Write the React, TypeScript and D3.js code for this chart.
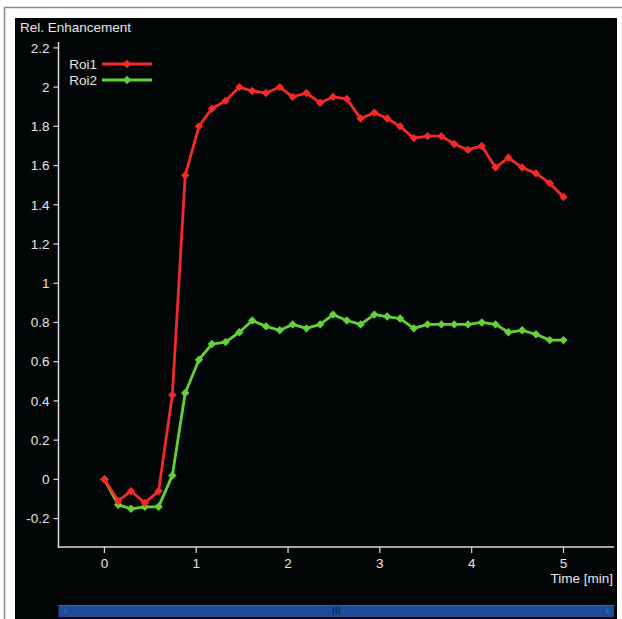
import React from "react";
import * as d3 from "d3";

// time points (min) and relative enhancement for both ROIs
const times = [
  0, 0.15, 0.29, 0.44, 0.59, 0.74, 0.88, 1.03, 1.17, 1.32, 1.47, 1.61, 1.76,
  1.91, 2.05, 2.2, 2.35, 2.49, 2.64, 2.79, 2.94, 3.08, 3.22, 3.37, 3.52, 3.67,
  3.81, 3.96, 4.11, 4.26, 4.4, 4.55, 4.7, 4.85, 5.0,
];
const roi1 = [
  0, -0.11, -0.06, -0.12, -0.06, 0.43, 1.55, 1.8, 1.89, 1.93, 2.0, 1.98, 1.97,
  2.0, 1.95, 1.97, 1.92, 1.95, 1.94, 1.84, 1.87, 1.84, 1.8, 1.74, 1.75, 1.75,
  1.71, 1.68, 1.7, 1.59, 1.64, 1.59, 1.56, 1.51, 1.44,
];
const roi2 = [
  0, -0.13, -0.15, -0.14, -0.14, 0.02, 0.44, 0.61, 0.69, 0.7, 0.75, 0.81, 0.78,
  0.76, 0.79, 0.77, 0.79, 0.84, 0.81, 0.79, 0.84, 0.83, 0.82, 0.77, 0.79, 0.79,
  0.79, 0.79, 0.8, 0.79, 0.75, 0.76, 0.74, 0.71, 0.71,
];
const seriesNames = ["Roi1", "Roi2"];
const xTicks = [0, 1, 2, 3, 4, 5];
const yTicks = [-0.2, 0, 0.2, 0.4, 0.6, 0.8, 1, 1.2, 1.4, 1.6, 1.8, 2, 2.2];

const W = 622;
const H = 619;
const FONT = "'Liberation Sans', Arial, sans-serif";
const FS = 13.5;
const TXT = "#e6e6e6";
const AXIS = "#d8d8d8";

const x = d3.scaleLinear().domain([-0.5, 5.55]).range([58.5, 614]);
const y = d3.scaleLinear().domain([-0.35, 2.23]).range([548, 42]);

const Diamond = ({ cx, cy, r, fill }) => (
  <path
    d={`M${cx},${cy - r}L${cx + r},${cy}L${cx},${cy + r}L${cx - r},${cy}Z`}
    fill={fill}
  />
);

const Series = ({ values, color }) => {
  const pts = times.map((t, i) => [x(t), y(values[i])]);
  const line = d3.line()(pts);
  return (
    <g>
      <path d={line} fill="none" stroke={color} strokeWidth={2.8} strokeLinejoin="round" />
      {pts.map((p, i) => (
        <Diamond key={i} cx={p[0]} cy={p[1]} r={4.2} fill={color} />
      ))}
    </g>
  );
};

export default function App() {
  const colors = ["#f42a26", "#62d13a"];
  const x0 = x.range()[0];
  const x1 = x.range()[1];
  const yb = y.range()[0];
  const yt = y.range()[1];
  const barMid = (x0 + x1) / 2;

  return (
    <div style={{ position: "absolute", left: 0, top: 0 }}>
      <svg width={W} height={H} style={{ display: "block" }}>
        <rect x={0} y={0} width={W} height={H} fill="#fff" />
        {/* outer frame */}
        <rect x={4.5} y={7.5} width={W + 20} height={H + 20} fill="none" stroke="#8a8a8a" strokeWidth={1.5} />
        {/* dark plot panel */}
        <rect x={15} y={18} width={602} height={H} fill="#030606" />

        <text x={20} y={32} fill={TXT} fontFamily={FONT} fontSize={FS}>
          Rel. Enhancement
        </text>

        {/* y axis */}
        <line x1={x0} x2={x0} y1={yt} y2={yb} stroke={AXIS} strokeWidth={1.5} />
        {yTicks.map((v) => (
          <g key={v}>
            <line x1={x0 - 5} x2={x0} y1={y(v)} y2={y(v)} stroke={AXIS} strokeWidth={1.2} />
            <text
              x={x0 - 9}
              y={y(v)}
              dy="0.35em"
              textAnchor="end"
              fill={TXT}
              fontFamily={FONT}
              fontSize={FS}>
              {String(+v.toFixed(1))}
            </text>
          </g>
        ))}

        {/* x axis */}
        <line x1={x0} x2={x1} y1={yb - 1} y2={yb - 1} stroke={AXIS} strokeWidth={1.5} />
        {xTicks.map((t) => (
          <g key={t}>
            <line x1={x(t)} x2={x(t)} y1={yb - 1} y2={yb + 5} stroke={AXIS} strokeWidth={1.2} />
            <text
              x={x(t)}
              y={yb + 20}
              textAnchor="middle"
              fill={TXT}
              fontFamily={FONT}
              fontSize={FS}>
              {t}
            </text>
          </g>
        ))}
        <text x={x1 - 1} y={yb + 35} textAnchor="end" fill={TXT} fontFamily={FONT} fontSize={FS}>
          Time [min]
        </text>

        {/* curves */}
        <Series values={roi2} color={colors[1]} />
        <Series values={roi1} color={colors[0]} />

        {/* legend */}
        {seriesNames.map((name, i) => {
          const ly = 64 + i * 16;
          return (
            <g key={name}>
              <text x={97} y={ly} dy="0.35em" textAnchor="end" fill={TXT} fontFamily={FONT} fontSize={FS}>
                {name}
              </text>
              <line x1={102} x2={152} y1={ly} y2={ly} stroke={colors[i]} strokeWidth={2.8} />
              <Diamond cx={127} cy={ly} r={4.2} fill={colors[i]} />
            </g>
          );
        })}

        {/* scrollbar */}
        <rect x={x0} y={605} width={x1 - x0} height={12} fill="#1d4c98" />
        <line x1={x0} x2={x1} y1={605.5} y2={605.5} stroke="#2f62b8" strokeWidth={1} />
        <path d={`M${x0 + 4},611 L${x0 + 8},607.5 L${x0 + 8},614.5 Z`} fill="#2d5fb5" />
        <path d={`M${x1 - 4},611 L${x1 - 8},607.5 L${x1 - 8},614.5 Z`} fill="#2d5fb5" />
        {[-3, 0, 3].map((d) => (
          <rect key={d} x={barMid + d - 0.75} y={607} width={1.5} height={8} fill="#0e2f66" />
        ))}
      </svg>
    </div>
  );
}
